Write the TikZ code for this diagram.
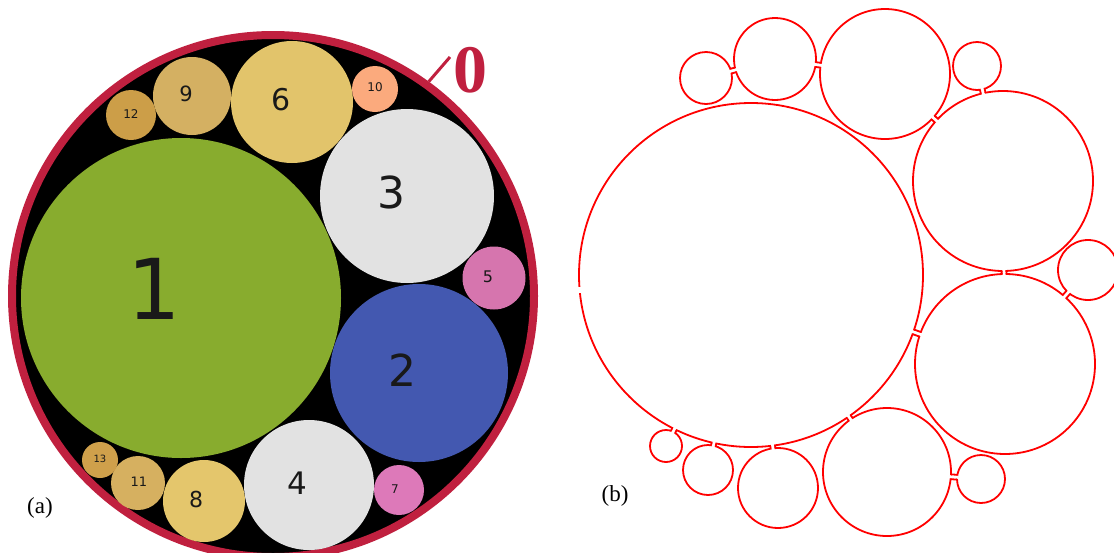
\documentclass[tikz,border=0pt]{standalone}
\usepackage{fontspec}
\setmainfont{Liberation Serif}
\newfontfamily\numfont{DejaVu Sans}
\usepackage{tikz}
\usetikzlibrary{calc}
\usepackage{xcolor}
\definecolor{crimson}{HTML}{C0203F}
\definecolor{leaf}{HTML}{88AC2E}
\definecolor{cobalt}{HTML}{4358B0}
\definecolor{fog}{HTML}{E2E2E2}
\definecolor{orchid}{HTML}{D675AE}
\definecolor{rose}{HTML}{DD79B9}
\definecolor{straw}{HTML}{E2C46B}
\definecolor{butter}{HTML}{E4C66C}
\definecolor{sand}{HTML}{D4B062}
\definecolor{peach}{HTML}{FBAA7D}
\definecolor{ochre}{HTML}{D6B060}
\definecolor{bronze}{HTML}{CC9E48}
\definecolor{amber}{HTML}{CFA04B}

\begin{document}
\begin{tikzpicture}[x=1pt,y=-1pt,
  disc/.style={circle,inner sep=0pt,minimum size=#1},
  num/.style={font=\numfont\fontsize{#1}{#1}\selectfont,text=black!90,inner sep=0pt},
  rim/.style={circle,draw=red,line width=1.8pt,inner sep=0pt,outer sep=0pt,minimum size=#1},
  neck/.style={draw=red,line width=1.8pt}]
\useasboundingbox (0,0) rectangle (1114,552);
% (a) packing inside the ring
\node[disc=522pt,fill=black,draw=crimson,line width=8pt] (outer) at (273,296) {};
\node[disc=320pt,fill=leaf] (c1) at (181,298) {};
\node[disc=178pt,fill=cobalt] (c2) at (419,373) {};
\node[disc=174pt,fill=fog] (c3) at (407,196) {};
\node[disc=130pt,fill=fog] (c4) at (309,485) {};
\node[disc=63pt,fill=orchid] (c5) at (494,278) {};
\node[disc=122pt,fill=straw] (c6) at (292,102) {};
\node[disc=50pt,fill=rose] (c7) at (399,490) {};
\node[disc=82pt,fill=butter] (c8) at (204,501) {};
\node[disc=78pt,fill=sand] (c9) at (192,96) {};
\node[disc=46pt,fill=peach] (c10) at (375,89) {};
\node[disc=54pt,fill=ochre] (c11) at (138,483) {};
\node[disc=50pt,fill=bronze] (c12) at (131,115) {};
\node[disc=36pt,fill=amber] (c13) at (100,460) {};
\node[num=84pt] (n1) at (154,289) {1};
\node[num=44pt] (n2) at (402,370) {2};
\node[num=44pt] (n3) at (391,192) {3};
\node[num=31pt] (n4) at (297,483) {4};
\node[num=16pt] (n5) at (488,277) {5};
\node[num=30pt] (n6) at (281,100) {6};
\node[num=12pt] (n7) at (395,489) {7};
\node[num=22pt] (n8) at (196,499) {8};
\node[num=21pt] (n9) at (186,94) {9};
\node[num=12pt] (n10) at (375,87) {10};
\node[num=13pt] (n11) at (139,482) {11};
\node[num=12pt] (n12) at (131,114) {12};
\node[num=10pt] (n13) at (100,459) {13};
\node[font=\bfseries\fontsize{68}{68}\selectfont,text=crimson,inner sep=0pt] (zero) at (470,70) {0};
\coordinate (lead) at (450,57);
\draw[crimson,line width=3pt] (outer.54) -- (lead);
\node[font=\fontsize{23}{23}\selectfont] (capa) at (40,508) {(a)};
% (b) linked rims
\node[rim=344pt] (b0) at (751,275) {};
\node[rim=52pt] (t1) at (706,78) {};
\node[rim=82pt] (t2) at (775,59) {};
\node[rim=130pt] (t3) at (885,74) {};
\node[rim=48pt] (t4) at (977,66) {};
\node[rim=180pt] (r1) at (1003,181) {};
\node[rim=60pt] (r2) at (1088,270) {};
\node[rim=180pt] (r3) at (1005,364) {};
\node[rim=128pt] (d1) at (887,472) {};
\node[rim=48pt] (d2) at (981,479) {};
\node[rim=80pt] (d3) at (778,488) {};
\node[rim=50pt] (d4) at (708,470) {};
\node[rim=32pt] (d5) at (666,446) {};
\fill[white] (575,287) rectangle (583,293);
\foreach \a/\b in {t1/t2,t2/t3,t3/r1,t4/r1,r1/r3,r3/r2,b0/r3,b0/d1,d1/d2,b0/d3,b0/d4,b0/d5}{
  \path (\a) -- (\b) coordinate[pos=0] (p) coordinate[pos=1] (q);
  \coordinate (pp) at ($(p)!-1.6pt!(q)$);
  \coordinate (qq) at ($(q)!-1.6pt!(p)$);
  \fill[white] ($(pp)!1.5pt!90:(qq)$) -- ($(pp)!1.5pt!-90:(qq)$) -- ($(qq)!1.5pt!90:(pp)$) -- ($(qq)!1.5pt!-90:(pp)$) -- cycle;
  \draw[neck] ($(p)!2.4pt!90:(q)$) -- ($(q)!2.4pt!-90:(p)$) ($(p)!2.4pt!-90:(q)$) -- ($(q)!2.4pt!90:(p)$);
}
\node[font=\fontsize{23}{23}\selectfont] (capb) at (615,496) {(b)};
\end{tikzpicture}
\end{document}
